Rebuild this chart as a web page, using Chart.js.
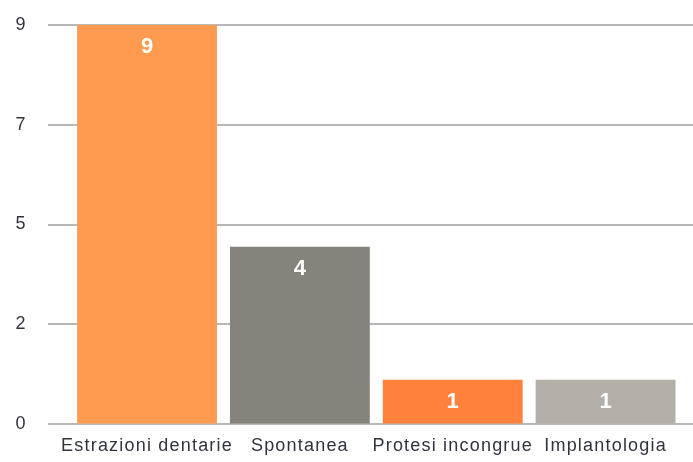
<!DOCTYPE html>
<html>
<head>
<meta charset="utf-8">
<script src="https://cdn.jsdelivr.net/npm/chart.js@4/dist/chart.umd.min.js"></script>
<style>
  html, body { margin: 0; padding: 0; background: #ffffff; }
  #wrap { width: 693px; height: 462px; position: relative; }
</style>
</head>
<body>
<div id="wrap"><canvas id="c" width="693" height="462"></canvas></div>
<script>
const categories = ['Estrazioni dentarie', 'Spontanea', 'Protesi incongrue', 'Implantologia'];
const values = [9, 4, 1, 1];
const barColors = ['#FF9B50', '#86827C', '#FF813B', '#B3AEA8'];
const yTickLabels = ['0', '2', '5', '7', '9'];
const yMax = 9;

const gridPlugin = {
  id: 'gridExt',
  beforeDraw(chart) {
    chart.ctx.letterSpacing = '1.2px';
  },
  beforeDatasetsDraw(chart) {
    const ctx = chart.ctx;
    ctx.letterSpacing = '0px';
    const y = chart.scales.y;
    ctx.save();
    ctx.strokeStyle = '#b8b8b8';
    ctx.lineWidth = 2;
    y.ticks.forEach(t => {
      const py = Math.round(y.getPixelForValue(t.value));
      ctx.beginPath();
      ctx.moveTo(48, py);
      ctx.lineTo(chart.width, py);
      ctx.stroke();
    });
    ctx.restore();
  },
  afterDatasetsDraw(chart) {
    const ctx = chart.ctx;
    const meta = chart.getDatasetMeta(0);
    ctx.save();
    ctx.letterSpacing = '0px';
    ctx.fillStyle = '#ffffff';
    ctx.font = 'bold 22px "Liberation Sans", Arial, sans-serif';
    ctx.textAlign = 'center';
    ctx.textBaseline = 'middle';
    meta.data.forEach((bar, i) => {
      ctx.fillText(String(values[i]), bar.x, bar.y + 22);
    });
    ctx.restore();
  }
};

new Chart(document.getElementById('c'), {
  type: 'bar',
  data: {
    labels: categories,
    datasets: [{
      data: values,
      backgroundColor: barColors,
      borderWidth: 0,
      barPercentage: 0.915,
      categoryPercentage: 1.0
    }]
  },
  options: {
    responsive: false,
    animation: false,
    devicePixelRatio: 1,
    layout: { padding: { top: 25, right: 11, bottom: 0, left: 0 } },
    plugins: { legend: { display: false }, tooltip: { enabled: false } },
    scales: {
      x: {
        grid: { display: false, drawTicks: false },
        border: { display: false },
        ticks: {
          color: '#30343f',
          font: { family: '"Liberation Sans", Arial, sans-serif', size: 18 },
          padding: 11,
          maxRotation: 0,
          autoSkip: false
        },
        afterFit(scale) { scale.height = 38; }
      },
      y: {
        min: 0,
        max: yMax,
        grid: { display: true, color: 'rgba(0,0,0,0)', drawOnChartArea: false, drawTicks: true, tickLength: 44 },
        border: { display: false },
        ticks: {
          stepSize: yMax / (yTickLabels.length - 1),
          color: '#30343f',
          font: { family: '"Liberation Sans", Arial, sans-serif', size: 18 },
          padding: 0,
          callback: (v, i) => yTickLabels[i]
        },
        afterFit(scale) { scale.width = 70.6; }
      }
    }
  },
  plugins: [gridPlugin]
});
</script>
</body>
</html>
